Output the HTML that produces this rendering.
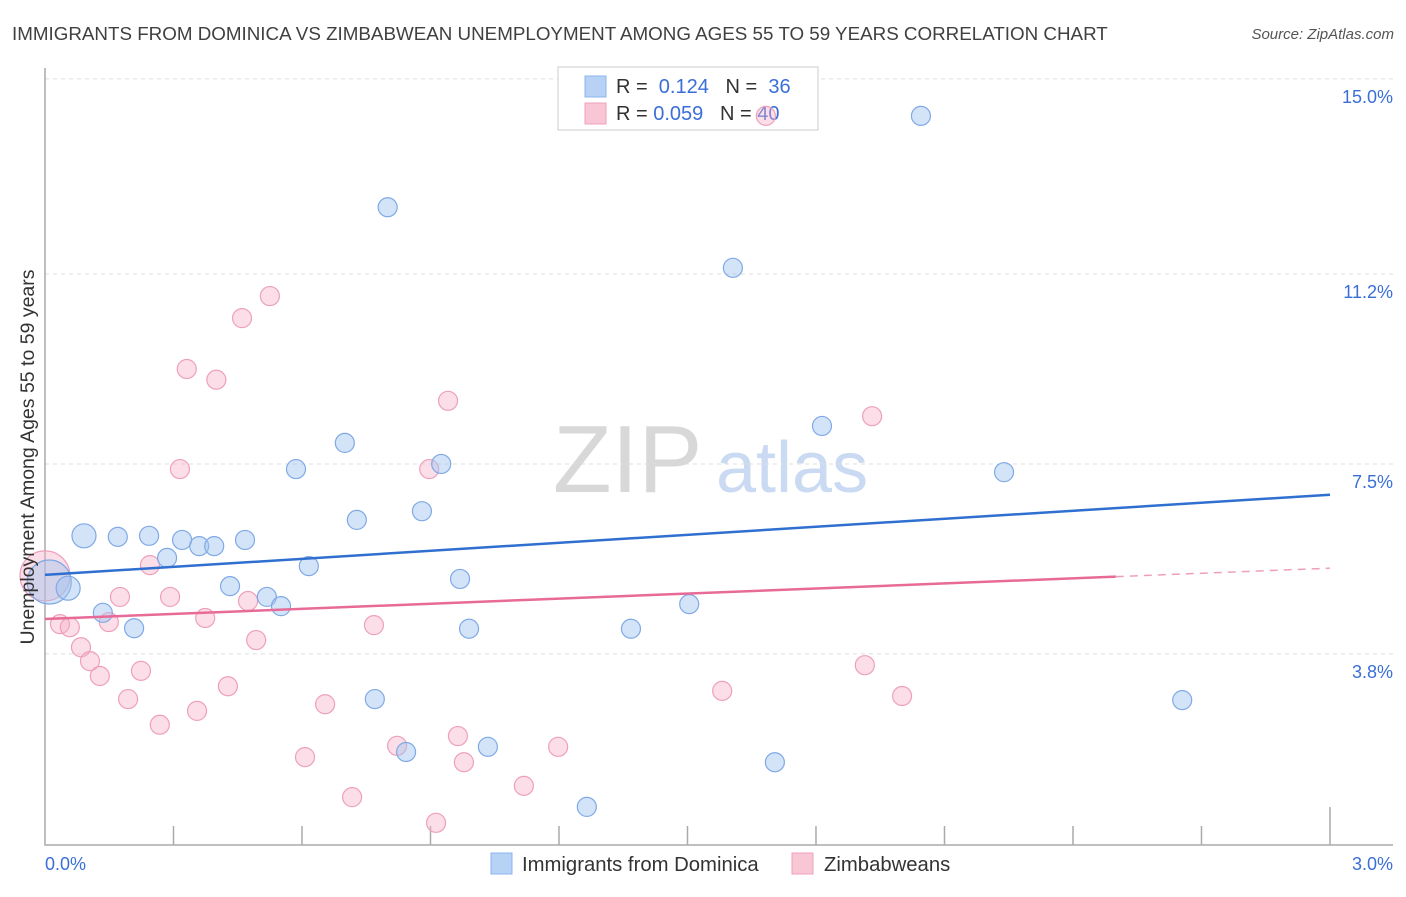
<!DOCTYPE html>
<html><head><meta charset="utf-8"><style>
body{margin:0;background:#fff;font-family:"Liberation Sans",sans-serif}
svg text{font-family:"Liberation Sans",sans-serif}
</style></head><body>
<svg id="chart" width="1406" height="892" xmlns="http://www.w3.org/2000/svg">
<text x="12" y="40" font-size="18.8" fill="#404040">IMMIGRANTS FROM DOMINICA VS ZIMBABWEAN UNEMPLOYMENT AMONG AGES 55 TO 59 YEARS CORRELATION CHART</text>
<text x="1394" y="39" font-size="15" fill="#555" font-style="italic" text-anchor="end">Source: ZipAtlas.com</text>
<g>
<text x="553" y="492" font-size="96" fill="#d8d8d8" font-family="Liberation Serif, serif">ZIP</text>
<text x="716" y="492" font-size="72" fill="#c9daf2">atlas</text>
</g>
<g id="grid"></g><g id="axes"></g>
<g>
<rect x="558" y="67" width="260" height="63" fill="#fff" stroke="#ccc"/>
<rect x="585" y="76" width="21" height="21" fill="#b8d2f6" stroke="#8ab4ec"/>
<rect x="585" y="103" width="21" height="21" fill="#f9c6d6" stroke="#eea0bb"/>
<text x="616" y="93" font-size="20" fill="#333">R = <tspan fill="#3a6fd8">&#160;0.124</tspan>&#160;&#160;&#160;N = <tspan fill="#3a6fd8">&#160;36</tspan></text>
<text x="616" y="120" font-size="20" fill="#333">R = <tspan fill="#3a6fd8">0.059</tspan>&#160;&#160;&#160;N = <tspan fill="#3a6fd8">40</tspan></text>
</g>
<g id="pts"></g><g id="lines"></g>
<text transform="translate(34,457) rotate(-90)" font-size="19.5" fill="#333" text-anchor="middle">Unemployment Among Ages 55 to 59 years</text>
<g>
<rect x="491" y="853" width="21" height="21" fill="#b8d2f6" stroke="#8ab4ec"/>
<text x="522" y="871" font-size="20.3" fill="#333">Immigrants from Dominica</text>
<rect x="792" y="853" width="21" height="21" fill="#f9c6d6" stroke="#eea0bb"/>
<text x="824" y="871" font-size="20.3" fill="#333">Zimbabweans</text>
</g>
</svg>
<script>
const yTicks=[3.8,7.5,11.2,15.0];
const yTickLabels=["3.8%","7.5%","11.2%","15.0%"];
const xTickLabels=["0.0%","3.0%"];
const blueX=[0.01,0.054,0.091,0.17,0.243,0.135,0.208,0.285,0.32,0.36,0.395,0.467,0.432,0.518,0.551,0.586,0.616,0.70,0.728,0.77,0.80,0.843,0.88,0.925,0.969,0.99,1.034,1.265,1.368,1.504,1.606,1.704,1.814,2.045,2.239,2.655];
const blueY=[5.2,5.08,6.10,6.08,6.10,4.60,4.30,5.67,6.02,5.90,5.90,6.02,5.12,4.91,4.73,7.40,5.51,7.91,6.41,2.92,12.50,1.89,6.58,7.50,5.26,4.29,1.99,0.82,4.29,4.77,11.32,1.69,8.24,14.28,7.34,2.90];
const pinkX=[0.0,0.035,0.058,0.084,0.105,0.128,0.149,0.175,0.194,0.224,0.245,0.268,0.292,0.315,0.331,0.355,0.374,0.40,0.427,0.46,0.474,0.493,0.525,0.607,0.654,0.717,0.768,0.822,0.897,0.913,0.941,0.964,0.978,1.118,1.198,1.581,1.683,1.914,1.931,2.001];
const pinkY=[5.32,4.38,4.32,3.93,3.66,3.37,4.42,4.91,2.92,3.47,5.53,2.42,4.91,7.40,9.35,2.69,4.50,9.14,3.17,10.34,4.83,4.07,10.77,1.79,2.82,1.01,4.36,2.01,7.40,0.51,8.73,2.20,1.69,1.23,1.99,3.08,14.28,3.58,8.43,2.98];
const blueTrend=[5.34,6.90];
const pinkTrend=[4.48,5.47];
const pinkSolidEnd=2.5;
const X=v=>45+v*428.33, Y=v=>849-v*51.34;
const NS="http://www.w3.org/2000/svg";
function mk(tag,parent,attrs){const e=document.createElementNS(NS,tag);for(const k in attrs)e.setAttribute(k,attrs[k]);document.getElementById(parent).appendChild(e);return e;}
yTicks.forEach((t,i)=>{
 const l=mk('line','grid',{x1:45,x2:1393,y1:Y(t),y2:Y(t),stroke:'#ddd','stroke-dasharray':'4,4'});
 
 
 const tx=mk('text','grid',{x:1393,y:Y(t)+24,'font-size':18,fill:'#3a6fd8','text-anchor':'end'});
 tx.textContent=yTickLabels[i];
 
 
});
const ax=mk('path','axes',{d:'M45,68V845H1393',fill:'none',stroke:'#aaa','stroke-width':1.5});


for(let i=1;i<=10;i++){const x=X(i*0.3);const tk=mk('line','axes',{x1:x,x2:x,y1:845,y2:i==10?807:826,stroke:'#aaa','stroke-width':1.5});
 
 }
[[0,45,'start'],[3,1393,'end']].forEach((a,i)=>{const t=mk('text','axes',{x:a[1],y:870,'font-size':18,fill:'#3a6fd8','text-anchor':a[2]});t.textContent=xTickLabels[i];
 
 });
function pts(xs,ys,fill,stroke,name){xs.forEach((x,i)=>{let r=9.5;if(i==0)r=name=='pink-point'?25:22;else if(name=='blue-point'&&(i==1||i==2))r=12;
 const c=mk('circle','pts',{cx:X(x),cy:Y(ys[i]),r:r,fill:fill,stroke:stroke,'stroke-width':1.2});
 
 });}
pts(pinkX,pinkY,'rgba(246,172,198,0.4)','#eea0bb','pink-point');
pts(blueX,blueY,'rgba(160,195,240,0.45)','#7fa9e6','blue-point');
const bl=mk('line','lines',{x1:X(0),y1:Y(blueTrend[0]),x2:X(3),y2:Y(blueTrend[1]),stroke:'#2f6fd0','stroke-width':2.5});


const pm=pinkTrend[0]+(pinkTrend[1]-pinkTrend[0])*pinkSolidEnd/3;
const pl=mk('line','lines',{x1:X(0),y1:Y(pinkTrend[0]),x2:X(pinkSolidEnd),y2:Y(pm),stroke:'#e86a96','stroke-width':2.5});


const pd=mk('line','lines',{x1:X(pinkSolidEnd),y1:Y(pm),x2:X(3),y2:Y(pinkTrend[1]),stroke:'#eea0bb','stroke-width':1.5,'stroke-dasharray':'8,6'});


</script>
</body></html>
